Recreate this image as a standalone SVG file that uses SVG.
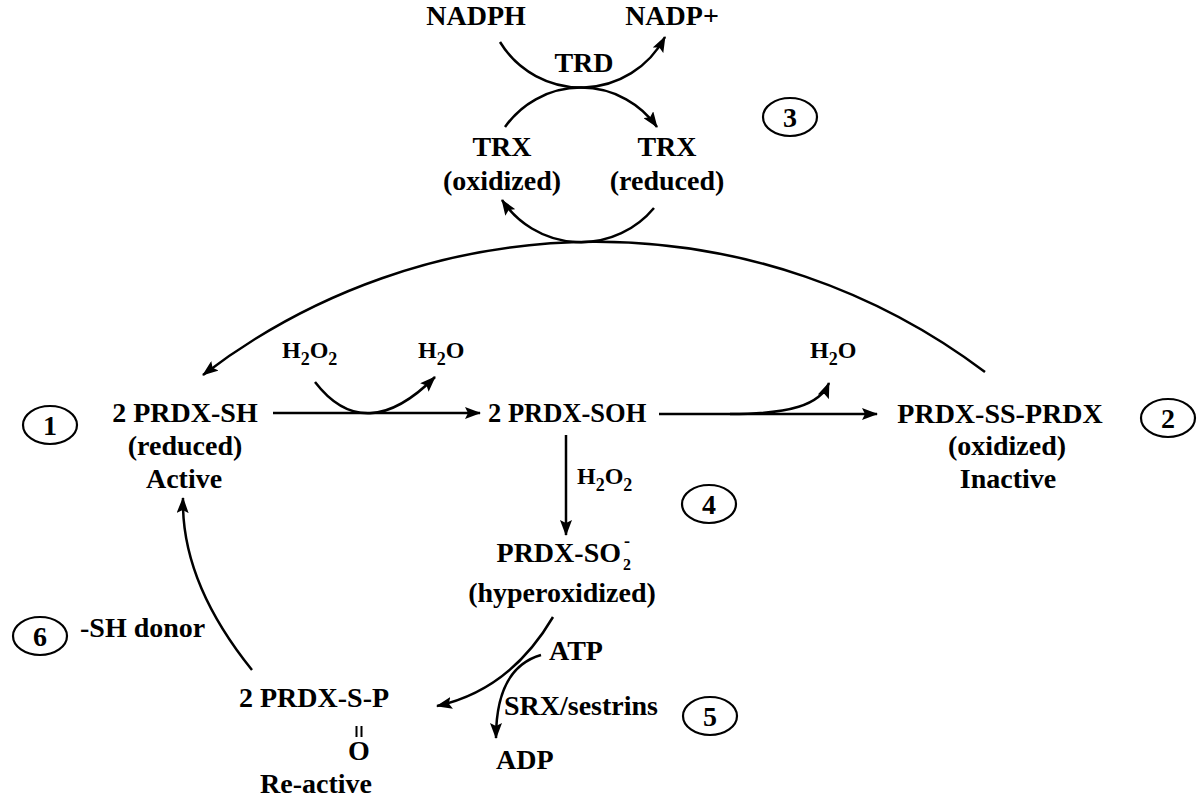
<svg xmlns="http://www.w3.org/2000/svg" width="1200" height="800" viewBox="0 0 1200 800">
<defs>
<style>
text{font-family:"Liberation Serif","Times New Roman",serif;font-weight:bold;font-size:28px;fill:#000}
.m{text-anchor:middle}
.s{font-size:24px}
.sub{font-size:18px}
.c{fill:none;stroke:#000;stroke-width:2.5;marker-end:url(#ah)}
.p{fill:none;stroke:#000;stroke-width:2.5}
.o{fill:#fff;stroke:#000;stroke-width:2.2}
</style>
<marker id="ah" viewBox="0 0 16 12" refX="15" refY="6" markerWidth="16" markerHeight="12" markerUnits="userSpaceOnUse" orient="auto">
<path d="M0,0 L16,6 L0,12 L3,6 Z" fill="#000"/>
</marker>
</defs>
<rect width="1200" height="800" fill="#fff"/>
<g id="connectors">
<path class="c" d="M 985 372 A 646 646 0 0 0 203 375"/>
<path class="c" d="M 500 42 A 95 95 0 0 0 665 37"/>
<path class="c" d="M 505 127 A 93 93 0 0 1 657 127"/>
<path class="c" d="M 654 208 A 95 95 0 0 1 502 200"/>
<path class="c" d="M 273 413 L 480 413"/>
<path class="c" d="M 315 382 Q 365 447 435 377"/>
<path class="c" d="M 659 414 L 877 414"/>
<path class="c" d="M 730 414 C 790 414 820 405 829 383"/>
<path class="c" d="M 566 435 L 566 535"/>
<path class="c" d="M 553 617 Q 510 690 437 706"/>
<path class="c" d="M 541 655 Q 496 668 496 738"/>
<path class="c" d="M 252 670 Q 181 582 183 498"/>
</g>
<g id="nadph"><text class="m" x="476" y="25">NADPH</text></g>
<g id="nadp"><text class="m" x="672" y="25">NADP+</text></g>
<g id="trd"><text class="m" x="584" y="72">TRD</text></g>
<g id="trx-ox"><text class="m" x="502" y="156">TRX</text><text class="m" x="502" y="190">(oxidized)</text></g>
<g id="trx-red"><text class="m" x="667" y="156">TRX</text><text class="m" x="667" y="190">(reduced)</text></g>
<g id="n3"><ellipse class="o" cx="790" cy="117" rx="27" ry="19"/><text class="m" x="790" y="127">3</text></g>
<g id="prdx-sh"><text class="m" x="185" y="422">2 PRDX-SH</text><text class="m" x="185" y="455">(reduced)</text><text class="m" x="184" y="488">Active</text></g>
<g id="n1"><ellipse class="o" cx="50" cy="425" rx="27" ry="19"/><text class="m" x="50" y="435">1</text></g>
<g id="h2o2-a"><text class="s" x="282" y="358">H<tspan class="sub" dy="7">2</tspan><tspan dy="-7">O</tspan><tspan class="sub" dy="7">2</tspan></text></g>
<g id="h2o-a"><text class="s" x="418" y="358">H<tspan class="sub" dy="7">2</tspan><tspan dy="-7">O</tspan></text></g>
<g id="prdx-soh"><text x="488" y="422" style="font-size:26.5px">2 PRDX-SOH</text></g>
<g id="h2o-b"><text class="s" x="810" y="358">H<tspan class="sub" dy="7">2</tspan><tspan dy="-7">O</tspan></text></g>
<g id="prdx-ss"><text class="m" x="1000" y="423">PRDX-SS-PRDX</text><text class="m" x="1007" y="455">(oxidized)</text><text class="m" x="1008" y="488">Inactive</text></g>
<g id="n2"><ellipse class="o" cx="1168" cy="418" rx="27" ry="19"/><text class="m" x="1168" y="428">2</text></g>
<g id="h2o2-b"><text class="s" x="577" y="484">H<tspan class="sub" dy="7">2</tspan><tspan dy="-7">O</tspan><tspan class="sub" dy="7">2</tspan></text></g>
<g id="n4"><ellipse class="o" cx="709" cy="504" rx="27" ry="19"/><text class="m" x="709" y="514">4</text></g>
<g id="prdx-so2"><text x="621" y="562" style="text-anchor:end">PRDX-SO</text><text x="623" y="570" style="font-size:16px">2</text><text x="624" y="547" style="font-size:18px">-</text><text class="m" x="562" y="602">(hyperoxidized)</text></g>
<g id="atp"><text x="549" y="660">ATP</text></g>
<g id="srx"><text x="504" y="715">SRX/sestrins</text></g>
<g id="adp"><text x="496" y="769">ADP</text></g>
<g id="n5"><ellipse class="o" cx="710" cy="716" rx="27" ry="19"/><text class="m" x="710" y="726">5</text></g>
<g id="prdx-sp"><text x="239" y="707">2 PRDX-S-P</text><path class="p" d="M 356.5 726 L 356.5 737 M 361.5 726 L 361.5 737" style="stroke-width:2"/><text class="m" x="359" y="760">O</text><text class="m" x="316" y="793">Re-active</text></g>
<g id="sh-donor"><text x="80" y="637">-SH donor</text></g>
<g id="n6"><ellipse class="o" cx="40" cy="636" rx="27" ry="19"/><text class="m" x="40" y="646">6</text></g>
</svg>
